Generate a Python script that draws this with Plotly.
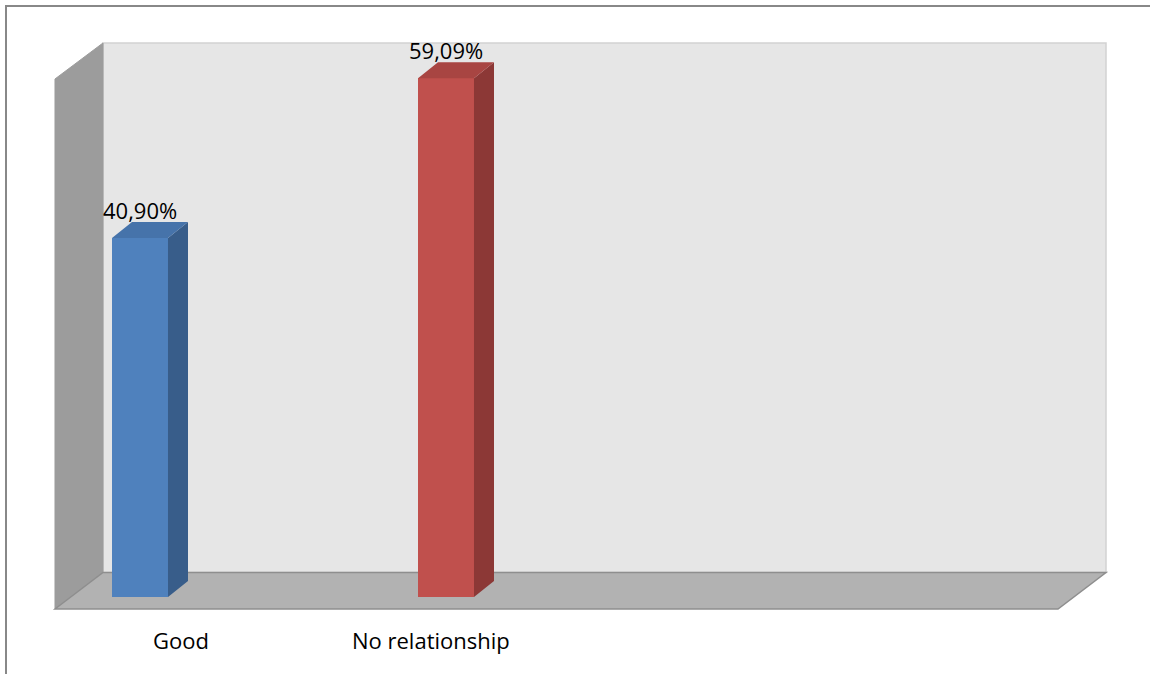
import plotly.graph_objects as go

# ---- data ----
categories = ["Good", "No relationship"]
values = [40.90, 59.09]
value_labels = ["40,90%", "59,09%"]

# ---- styling ----
front_colors = ["#4f81bd", "#c0504d"]
side_colors = ["#385d8a", "#8c3836"]
top_colors = ["#4673aa", "#a84542"]
label_xshift = [41, -15]          # horizontal offset of category labels (px)

FONT = "Open Sans"
BAR_W = 0.183                     # bar front width (x units)
DX, DY = 0.0654, 1.82             # 3-D depth offset of bars (x units, % units)

# axis ranges chosen so one x unit = 306 px and one % = 8.78 px
X_RANGE = [-0.4575, 3.3007]
Y_RANGE = [-8.770, 67.995]

fig = go.Figure()

# front faces of the bars
fig.add_trace(go.Bar(
    x=list(range(len(categories))), y=values, width=BAR_W,
    marker=dict(color=front_colors, line=dict(width=0)),
    hoverinfo="skip", showlegend=False,
))

# side and top faces built from the same values
for i, v in enumerate(values):
    x0, x1 = i - BAR_W / 2, i + BAR_W / 2
    fig.add_trace(go.Scatter(
        x=[x1, x1 + DX, x1 + DX, x1, x1], y=[0, DY, v + DY, v, 0],
        mode="lines", fill="toself", fillcolor=side_colors[i],
        line=dict(width=0), hoverinfo="skip", showlegend=False,
    ))
    fig.add_trace(go.Scatter(
        x=[x0, x0 + DX, x1 + DX, x1, x0], y=[v, v + DY, v + DY, v, v],
        mode="lines", fill="toself", fillcolor=top_colors[i],
        line=dict(width=0), hoverinfo="skip", showlegend=False,
    ))

# chart frame: back wall, left wall, floor
wall_left_back, wall_right_back = -0.1209, 3.1569
floor_front_l, floor_front_r = -0.2778, 3.0
floor_back_y, floor_front_y = 2.79, -1.367
wall_top_back, wall_top_front = 63.10, 59.0

shapes = [
    dict(type="rect", xref="x", yref="y", layer="below",
         x0=wall_left_back, x1=wall_right_back, y0=floor_back_y, y1=wall_top_back,
         fillcolor="#e6e6e6", line=dict(color="#d2d2d2", width=1.5)),
    dict(type="path", xref="x", yref="y", layer="below",
         path=(f"M{floor_front_l},{floor_front_y} L{wall_left_back},{floor_back_y} "
               f"L{wall_left_back},{wall_top_back} L{floor_front_l},{wall_top_front} Z"),
         fillcolor="#9c9c9c", line=dict(color="#9c9c9c", width=1)),
    dict(type="path", xref="x", yref="y", layer="below",
         path=(f"M{floor_front_l},{floor_front_y} L{wall_left_back},{floor_back_y} "
               f"L{wall_right_back},{floor_back_y} L{floor_front_r},{floor_front_y} Z"),
         fillcolor="#b2b2b2", line=dict(color="#8e8e8e", width=1.5)),
    # outer chart border
    dict(type="rect", xref="paper", yref="paper", layer="above",
         x0=6 / 1150, x1=1.02, y0=-0.02, y1=1 - 6 / 674,
         line=dict(color="#888888", width=2), fillcolor="rgba(0,0,0,0)"),
]

annotations = []
for i, v in enumerate(values):
    annotations.append(dict(
        x=i, y=v + DY, xref="x", yref="y", text=value_labels[i],
        showarrow=False, yanchor="middle", yshift=12,
        font=dict(family=FONT, size=22, color="#000000"),
    ))
    annotations.append(dict(
        x=i, y=-4.9, xref="x", yref="y", text=categories[i],
        showarrow=False, yanchor="middle", xshift=label_xshift[i],
        font=dict(family=FONT, size=22, color="#000000"),
    ))

fig.update_layout(
    width=1150, height=674,
    margin=dict(l=0, r=0, t=0, b=0),
    paper_bgcolor="white", plot_bgcolor="white",
    xaxis=dict(range=X_RANGE, visible=False, fixedrange=True),
    yaxis=dict(range=Y_RANGE, visible=False, fixedrange=True),
    shapes=shapes, annotations=annotations,
    bargap=0, showlegend=False,
)

fig.write_html("out.html")
